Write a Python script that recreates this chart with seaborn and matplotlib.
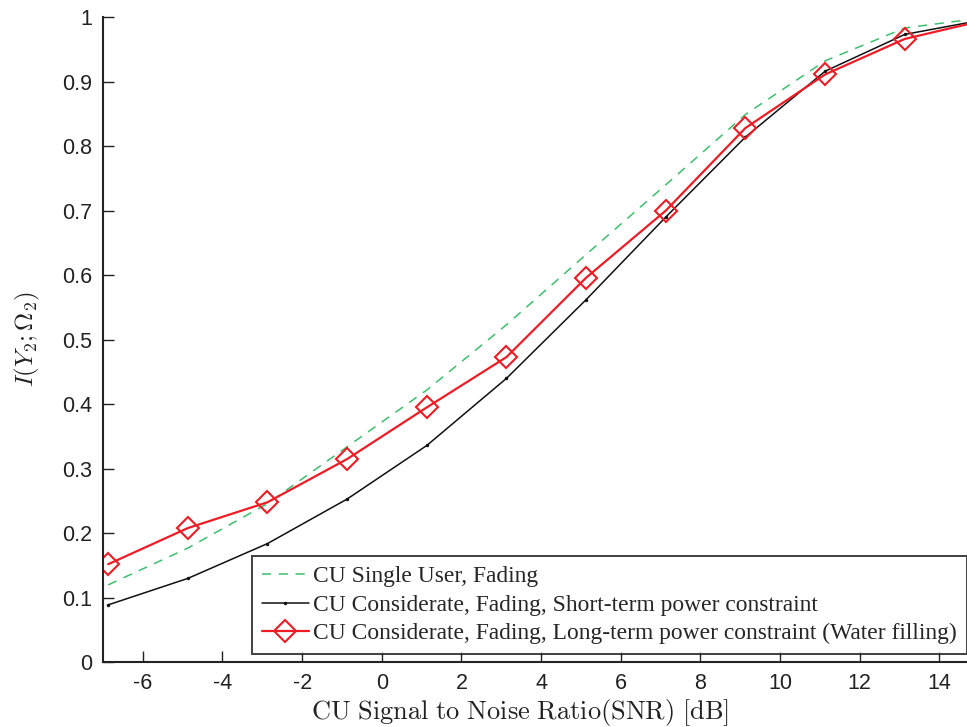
import matplotlib
matplotlib.use("Agg")
import matplotlib.pyplot as plt
import seaborn as sns
import numpy as np
import pandas as pd

# ---- data ----
snr_db = [-6.87, -4.87, -2.87, -0.87, 1.13, 3.13, 5.13, 7.13, 9.13, 11.13, 13.13, 15.13]
single_user = [0.120, 0.177, 0.246, 0.334, 0.422, 0.523, 0.632, 0.740, 0.849, 0.932, 0.983, 0.999]
short_term = [0.089, 0.130, 0.184, 0.253, 0.336, 0.440, 0.562, 0.690, 0.814, 0.916, 0.973, 0.996]
long_term = [0.152, 0.208, 0.248, 0.315, 0.395, 0.473, 0.596, 0.700, 0.828, 0.911, 0.966, 0.995]
x_ticks = [-6, -4, -2, 0, 2, 4, 6, 8, 10, 12, 14]
y_ticks = [0, 0.1, 0.2, 0.3, 0.4, 0.5, 0.6, 0.7, 0.8, 0.9, 1]
y_tick_labels = ["0", "0.1", "0.2", "0.3", "0.4", "0.5", "0.6", "0.7", "0.8", "0.9", "1"]
labels = ["CU Single User, Fading",
          "CU Considerate, Fading, Short-term power constraint",
          "CU Considerate, Fading, Long-term power constraint (Water filling)"]

sns.set_theme(style="white")
plt.rcParams["font.family"] = ["Liberation Sans", "DejaVu Sans"]
plt.rcParams["mathtext.fontset"] = "cm"

W, H = 967, 727
fig = plt.figure(figsize=(W / 100, H / 100), dpi=100)
ax_left = 103 / W
ax_bottom = 1 - 662.3 / H
ax_height = (662.3 - 17) / H
ax_width = (15.2 + 7.0) * 39.83 / W
ax = fig.add_axes([ax_left, ax_bottom, ax_width, ax_height])

df = pd.DataFrame({"snr": snr_db, "su": single_user, "st": short_term, "lt": long_term})

sns.lineplot(data=df, x="snr", y="su", ax=ax, color="#3dbf6e", linestyle=(0, (6, 5)),
             linewidth=1.1, label=labels[0], sort=False)
sns.lineplot(data=df, x="snr", y="st", ax=ax, color="#111111", linewidth=1.1,
             marker="o", markersize=2.5, markeredgewidth=0, label=labels[1], sort=False)
sns.lineplot(data=df, x="snr", y="lt", ax=ax, color="#ee1c25", linewidth=1.6,
             marker="D", markersize=11, markerfacecolor="none", markeredgecolor="#ee1c25",
             markeredgewidth=1.5, label=labels[2], sort=False)

ax.set_xlim(-7.0, 15.2)
ax.set_ylim(0, 1)
ax.set_xticks(x_ticks)
ax.set_xticklabels([str(t) for t in x_ticks])
ax.set_yticks(y_ticks)
ax.set_yticklabels(y_tick_labels)
ax.tick_params(axis="both", direction="in", length=8, width=1, labelsize=15.5,
               colors="#222222", bottom=True, left=True)
ax.tick_params(axis="x", pad=8)
ax.tick_params(axis="y", pad=8)
for s in ["top", "right"]:
    ax.spines[s].set_visible(False)
for s in ["left", "bottom"]:
    ax.spines[s].set_color("#222222")
    ax.spines[s].set_linewidth(1.5)

ax.set_xlabel("")
fig.text(520 / W, 1 - 712 / H, r"$\mathrm{CU\ Signal\ to\ Noise\ Ratio(SNR)\ [dB]}$",
         fontsize=19, ha="center", va="center", color="#222222")
ax.set_ylabel(r"$I(Y_2;\Omega_2)$", fontsize=18, labelpad=14, color="#222222")

leg = ax.legend(loc="upper left", bbox_to_anchor=(252 / W, 1 - 556 / H),
                bbox_transform=fig.transFigure, frameon=True, fancybox=False,
                prop={"family": ["Liberation Serif", "DejaVu Serif"], "size": 16.9},
                handlelength=2.0, handletextpad=0.2, borderpad=0.42, labelspacing=0.3,
                borderaxespad=0)
leg.get_frame().set_edgecolor("#111111")
leg.get_frame().set_linewidth(1.4)

fig.savefig("out.png", dpi=100)
